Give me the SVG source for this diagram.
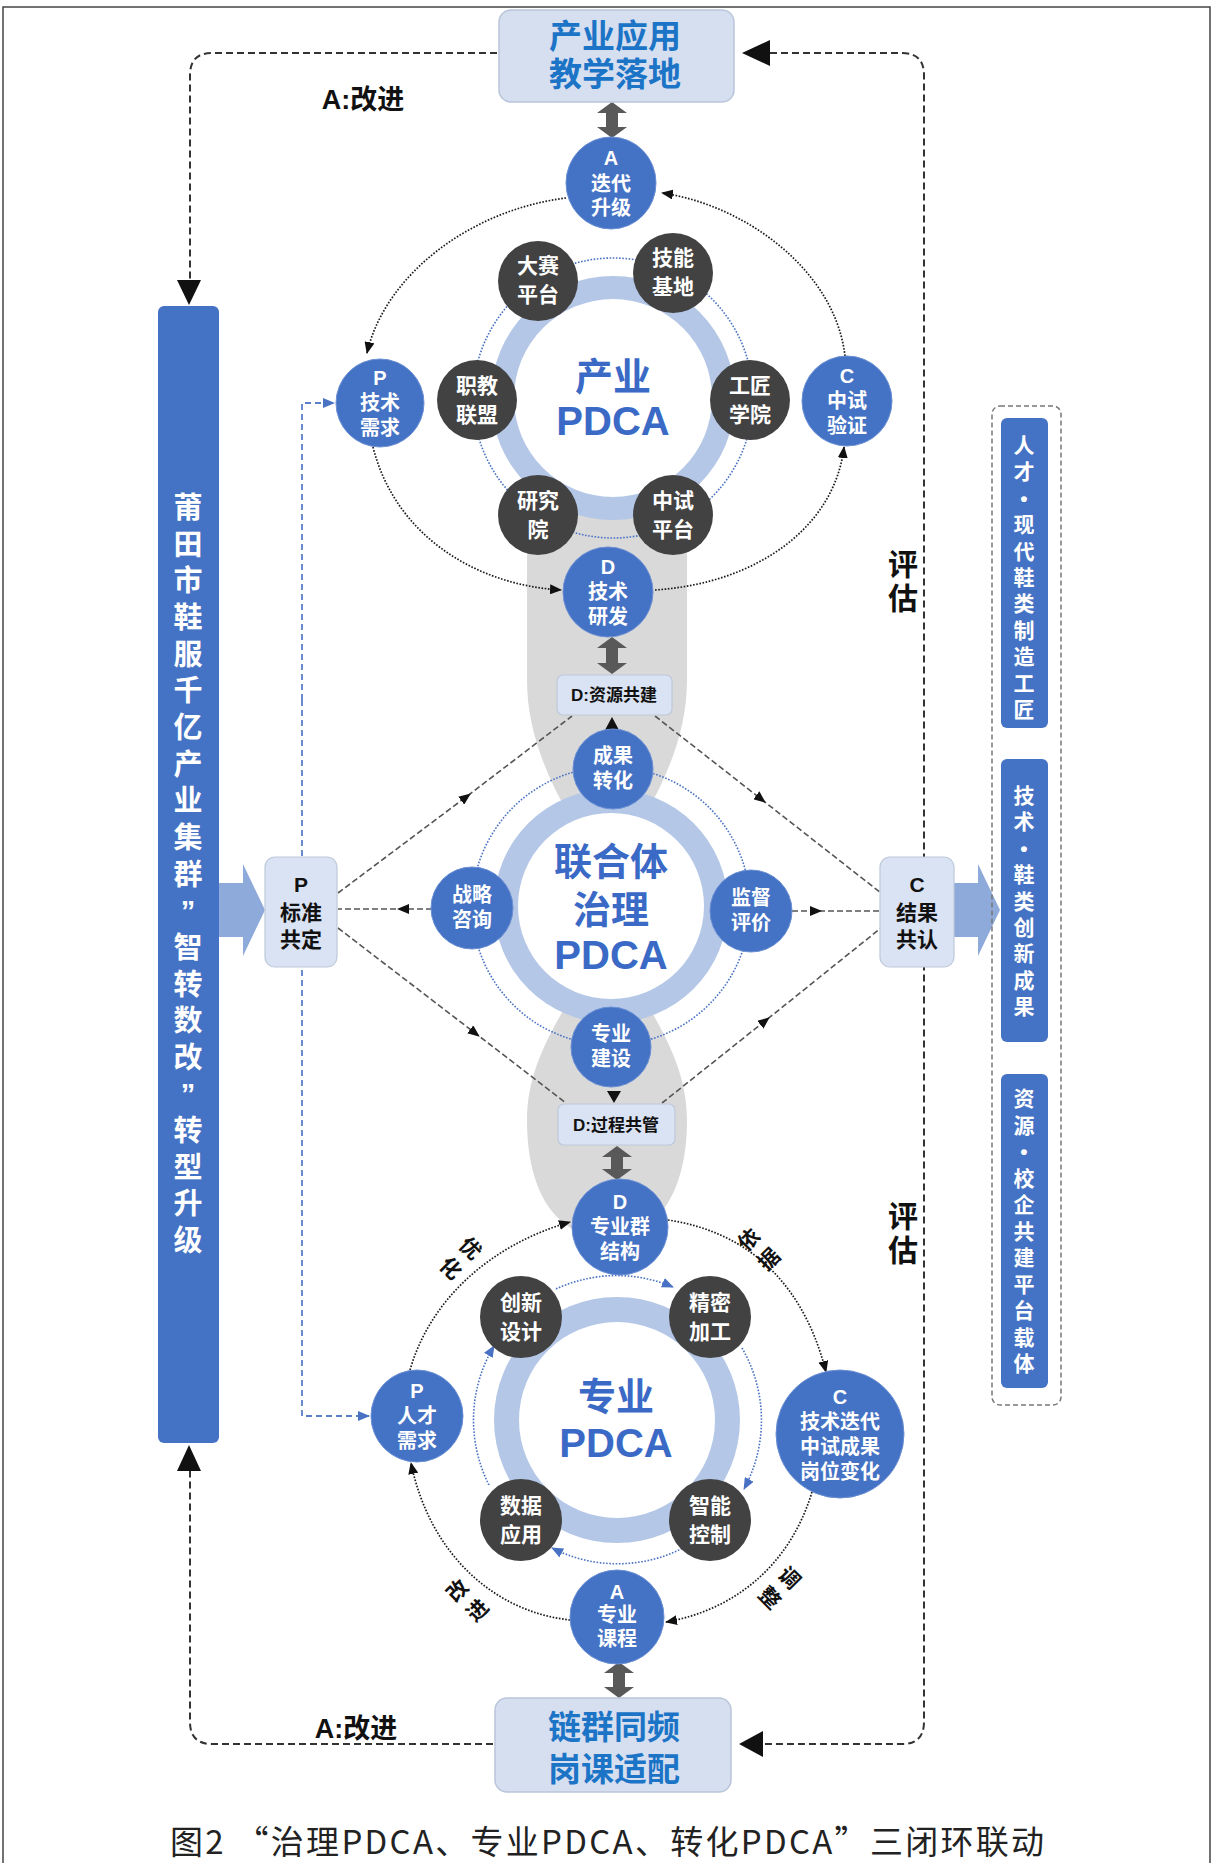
<svg xmlns="http://www.w3.org/2000/svg" width="1213" height="1863" viewBox="0 0 1213 1863">
<defs>
<style>
.t{font-family:"Liberation Sans","Noto Sans CJK SC",sans-serif;font-weight:bold;text-anchor:middle;dominant-baseline:central}
.t tspan{dominant-baseline:central}
.w{fill:#fff}
.k{fill:#111}
.n20{font-size:20px}
.n21{font-size:21px}
.bn{fill:#4472c4;stroke:#6a8fd4;stroke-width:1}
.dn{fill:#424242}
.dot{fill:none;stroke:#1a1a1a;stroke-width:1.7;stroke-dasharray:1.6 1.6}
.bdot{fill:none;stroke:#4a72c4;stroke-width:1.6;stroke-dasharray:1.6 1.6}
.dash{fill:none;stroke:#333;stroke-width:2;stroke-dasharray:7 4}
.gd{fill:none;stroke:#555;stroke-width:1.6;stroke-dasharray:6 3}
.bd{fill:none;stroke:#5b7fc8;stroke-width:1.8;stroke-dasharray:6 4}
.box{fill:#dae3f3;stroke:#bfc9da;stroke-width:1.2}
.dbl{fill:#595959}
.ring{fill:#b4c7e7}
.big{fill:#3a6ac6}
.bluebar{fill:#4472c4}
.ttl{fill:#1c74c6;font-size:33px}
</style>
<marker id="ak" viewBox="0 0 12 10" refX="11" refY="5" markerWidth="12" markerHeight="10" markerUnits="userSpaceOnUse" orient="auto"><path d="M0 0 L12 5 L0 10 Z" fill="#111"/></marker>
<marker id="ab" viewBox="0 0 12 10" refX="11" refY="5" markerWidth="12" markerHeight="10" markerUnits="userSpaceOnUse" orient="auto"><path d="M0 0 L12 5 L0 10 Z" fill="#4a72c4"/></marker>
<marker id="am" viewBox="0 0 12 10" refX="6" refY="5" markerWidth="12" markerHeight="10" markerUnits="userSpaceOnUse" orient="auto"><path d="M0 0 L12 5 L0 10 Z" fill="#111"/></marker>
</defs>

<rect width="1213" height="1863" fill="#fff"/>
<path d="M3 1863 L3 7 L1210 7 L1210 1863" fill="none" stroke="#444" stroke-width="1.5"/>

<g id="lens">
<path d="M607 470 C650 470 687 500 687 560 L687 680 C687 730 668 775 645 815 L569 815 C546 775 527 730 527 680 L527 560 C527 500 564 470 607 470 Z" fill="#d9d9d9"/>
<path d="M572 995 L642 995 C665 1035 687 1072 687 1120 C687 1190 660 1235 607 1240 C554 1235 527 1190 527 1120 C527 1072 549 1035 572 995 Z" fill="#d9d9d9"/>
</g>

<g id="ring-top"><circle cx="613" cy="398" r="122" class="ring"/><circle cx="613" cy="398" r="99" fill="#fff"/>
<circle cx="613" cy="398" r="140" class="bdot"/>
<text class="t big"><tspan x="613" y="377" font-size="38">产业</tspan><tspan x="613" y="421" font-size="40">PDCA</tspan></text></g>
<g id="ring-mid"><circle cx="611" cy="906" r="117" class="ring"/><circle cx="611" cy="906" r="93" fill="#fff"/>
<circle cx="611" cy="906" r="139" class="bdot"/>
<text class="t big" font-size="38"><tspan x="611" y="862">联合体</tspan><tspan x="611" y="910">治理</tspan><tspan x="611" y="955" font-size="40">PDCA</tspan></text></g>
<g id="ring-bot"><circle cx="617" cy="1420" r="123" class="ring"/><circle cx="617" cy="1420" r="98" fill="#fff"/>
<text class="t big"><tspan x="616" y="1397" font-size="38">专业</tspan><tspan x="616" y="1443" font-size="40">PDCA</tspan></text></g>

<g id="connectors">
<path class="dash" d="M497 53 L212 53 Q190 53 190 75 L190 282"/>
<path d="M177 280 L201 280 L189 305 Z" fill="#111"/>
<path class="dash" d="M770 53 L902 53 Q924 53 924 75 L924 1722 Q924 1744 902 1744 L763 1744"/>
<path d="M742 53 L770 40 L770 66 Z" fill="#111"/>
<path d="M739 1744 L763 1731 L763 1757 Z" fill="#111"/>
<path class="dash" d="M493 1744 L212 1744 Q190 1744 190 1722 L190 1471"/>
<path d="M189 1445 L177 1471 L201 1471 Z" fill="#111"/>
<path class="bd" d="M302 700 L302 403 L334 403" marker-end="url(#ab)"/>
<path class="bd" d="M302 700 L302 1416 L369 1416" marker-end="url(#ab)"/>
<path class="dbl" d="M612 102 L627 113 L618 113 L618 127 L627 127 L612 138 L597 127 L606 127 L606 113 L597 113 Z"/>
<path class="dbl" d="M612 637 L627 648 L618 648 L618 663 L627 663 L612 674 L597 663 L606 663 L606 648 L597 648 Z"/>
<path class="dbl" d="M617 1146 L632 1157 L623 1157 L623 1169 L632 1169 L617 1180 L602 1169 L611 1169 L611 1157 L602 1157 Z"/>
<path class="dbl" d="M619 1662 L634 1673 L625 1673 L625 1687 L634 1687 L619 1698 L604 1687 L613 1687 L613 1673 L604 1673 Z"/>
<path d="M219 883 L243 883 L243 864 L265 910 L243 956 L243 937 L219 937 Z" fill="#8eaadb"/>
<path d="M954 883 L978 883 L978 864 L1000 910 L978 956 L978 937 L954 937 Z" fill="#8eaadb"/>
<path class="dot" d="M845 356 C835 270 745 205 662 193" marker-end="url(#ak)"/>
<path class="dot" d="M566 198 C470 210 385 275 367 353" marker-end="url(#ak)"/>
<path class="dot" d="M373 447 C395 535 475 585 561 590" marker-end="url(#ak)"/>
<path class="dot" d="M655 590 C760 583 835 525 844 447" marker-end="url(#ak)"/>
<path class="gd" d="M338 893 L466 797 L572 716" marker-mid="url(#am)"/>
<path class="gd" d="M655 716 L761 799 L881 893" marker-mid="url(#am)"/>
<path class="gd" d="M338 928 L475 1033 L566 1103" marker-mid="url(#am)"/>
<path class="gd" d="M662 1103 L765 1021 L881 928" marker-mid="url(#am)"/>
<path class="gd" d="M432 909 L403 909 L338 909" marker-mid="url(#am)"/>
<path class="gd" d="M792 911 L816 911 L880 911" marker-mid="url(#am)"/>
<path d="M612 717 L605 730 L619 730 Z" fill="#111"/>
<path d="M614 1103 L607 1091 L621 1091 Z" fill="#111"/>
<path class="dot" d="M410 1370 C430 1300 490 1245 570 1222" marker-end="url(#ak)"/>
<path class="dot" d="M668 1220 C735 1230 800 1270 826 1372" marker-end="url(#ak)"/>
<path class="dot" d="M812 1492 C790 1565 735 1610 666 1622" marker-end="url(#ak)"/>
<path class="dot" d="M570 1620 C495 1612 430 1555 411 1463" marker-end="url(#ak)"/>
<path class="bdot" d="M556 1289 A144 144 0 0 1 673 1287" marker-end="url(#ab)"/>
<path class="bdot" d="M742 1348 A144 144 0 0 1 744 1489" marker-end="url(#ab)"/>
<path class="bdot" d="M685 1547 A144 144 0 0 1 552 1548" marker-end="url(#ab)"/>
<path class="bdot" d="M489 1485 A144 144 0 0 1 494 1346" marker-end="url(#ab)"/>
</g>

<g id="labels">
<text class="t k" x="363" y="100" font-size="27">A:改进</text>
<text class="t k" x="356" y="1729" font-size="27">A:改进</text>
<text class="t k" font-size="30"><tspan x="903" y="564">评</tspan><tspan x="903" y="598">估</tspan></text>
<text class="t k" font-size="30"><tspan x="903" y="1216">评</tspan><tspan x="903" y="1250">估</tspan></text>
<text class="t k n21" transform="translate(461 1258) rotate(45)"><tspan x="0" y="-14">优</tspan><tspan x="0" y="14">化</tspan></text>
<text class="t k n21" transform="translate(758.5 1249) rotate(-45)"><tspan x="0" y="-14">依</tspan><tspan x="0" y="14">据</tspan></text>
<text class="t k n21" transform="translate(467 1600) rotate(-45)"><tspan x="0" y="-14">改</tspan><tspan x="0" y="14">进</tspan></text>
<text class="t k n21" transform="translate(780 1587.5) rotate(45)"><tspan x="0" y="-14">调</tspan><tspan x="0" y="14">整</tspan></text>
</g>

<g id="box-top"><rect x="499" y="10" width="235" height="92" rx="12" fill="#d6dff0" stroke="#b9c5da" stroke-width="1.5"/>
<text class="t ttl"><tspan x="615" y="36">产业应用</tspan><tspan x="615" y="74">教学落地</tspan></text></g>
<g id="box-bottom"><rect x="495" y="1698" width="236" height="94" rx="12" fill="#d6dff0" stroke="#b9c5da" stroke-width="1.5"/>
<text class="t ttl"><tspan x="614" y="1727">链群同频</tspan><tspan x="614" y="1769">岗课适配</tspan></text></g>

<g id="n-A1"><ellipse cx="611" cy="183" rx="45" ry="46" class="bn"/><text class="t w n20"><tspan x="611" y="158">A</tspan><tspan x="611" y="184">迭代</tspan><tspan x="611" y="208">升级</tspan></text></g>
<g id="n-P1"><circle cx="380" cy="403" r="44" class="bn"/><text class="t w n20"><tspan x="380" y="378">P</tspan><tspan x="380" y="403">技术</tspan><tspan x="380" y="428">需求</tspan></text></g>
<g id="n-C1"><circle cx="847" cy="401" r="45" class="bn"/><text class="t w n20"><tspan x="847" y="376">C</tspan><tspan x="847" y="401">中试</tspan><tspan x="847" y="426">验证</tspan></text></g>
<g id="n-D1"><circle cx="608" cy="592" r="45" class="bn"/><text class="t w n20"><tspan x="608" y="567">D</tspan><tspan x="608" y="592">技术</tspan><tspan x="608" y="617">研发</tspan></text></g>
<g id="n-dasai"><circle cx="538" cy="281" r="40" class="dn"/><text class="t w n21"><tspan x="538" y="265">大赛</tspan><tspan x="538" y="294">平台</tspan></text></g>
<g id="n-jineng"><circle cx="673" cy="273" r="40" class="dn"/><text class="t w n21"><tspan x="673" y="257">技能</tspan><tspan x="673" y="286">基地</tspan></text></g>
<g id="n-zhijiao"><circle cx="477" cy="400" r="40" class="dn"/><text class="t w n21"><tspan x="477" y="385">职教</tspan><tspan x="477" y="414">联盟</tspan></text></g>
<g id="n-gongjiang"><circle cx="750" cy="400" r="40" class="dn"/><text class="t w n21"><tspan x="750" y="385">工匠</tspan><tspan x="750" y="414">学院</tspan></text></g>
<g id="n-yanjiu"><circle cx="538" cy="515" r="40" class="dn"/><text class="t w n21"><tspan x="538" y="500">研究</tspan><tspan x="538" y="529">院</tspan></text></g>
<g id="n-zhongshi"><circle cx="673" cy="515" r="40" class="dn"/><text class="t w n21"><tspan x="673" y="500">中试</tspan><tspan x="673" y="529">平台</tspan></text></g>

<g id="b-ziyuan"><rect x="557" y="675" width="115" height="40" rx="6" class="box"/><text class="t k" x="614" y="695" font-size="17">D:资源共建</text></g>
<g id="b-guocheng"><rect x="558" y="1104" width="117" height="41" rx="6" class="box"/><text class="t k" x="616" y="1125" font-size="17">D:过程共管</text></g>
<g id="b-biaozhun"><rect x="265" y="857" width="72" height="110" rx="10" class="box"/><text class="t k n21"><tspan x="301" y="884">P</tspan><tspan x="301" y="912">标准</tspan><tspan x="301" y="939">共定</tspan></text></g>
<g id="b-jieguo"><rect x="880" y="857" width="74" height="110" rx="10" class="box"/><text class="t k n21"><tspan x="917" y="884">C</tspan><tspan x="917" y="912">结果</tspan><tspan x="917" y="939">共认</tspan></text></g>
<g id="n-chengguo"><circle cx="613" cy="769" r="40" class="bn"/><text class="t w n20"><tspan x="613" y="756">成果</tspan><tspan x="613" y="781">转化</tspan></text></g>
<g id="n-zhanlue"><circle cx="472" cy="908" r="41" class="bn"/><text class="t w n20"><tspan x="472" y="895">战略</tspan><tspan x="472" y="920">咨询</tspan></text></g>
<g id="n-jiandu"><circle cx="751" cy="911" r="41" class="bn"/><text class="t w n20"><tspan x="751" y="898">监督</tspan><tspan x="751" y="923">评价</tspan></text></g>
<g id="n-zhuanye"><circle cx="611" cy="1047" r="40" class="bn"/><text class="t w n20"><tspan x="611" y="1034">专业</tspan><tspan x="611" y="1059">建设</tspan></text></g>

<g id="n-D2"><circle cx="620" cy="1227" r="48" class="bn"/><text class="t w n20"><tspan x="620" y="1202">D</tspan><tspan x="620" y="1227">专业群</tspan><tspan x="620" y="1252">结构</tspan></text></g>
<g id="n-P2"><circle cx="417" cy="1416" r="46" class="bn"/><text class="t w n20"><tspan x="417" y="1391">P</tspan><tspan x="417" y="1416">人才</tspan><tspan x="417" y="1441">需求</tspan></text></g>
<g id="n-C2"><circle cx="840" cy="1434" r="64" class="bn"/><text class="t w n20"><tspan x="840" y="1397">C</tspan><tspan x="840" y="1422">技术迭代</tspan><tspan x="840" y="1447">中试成果</tspan><tspan x="840" y="1472">岗位变化</tspan></text></g>
<g id="n-A2"><circle cx="617" cy="1617" r="47" class="bn"/><text class="t w n20"><tspan x="617" y="1592">A</tspan><tspan x="617" y="1615">专业</tspan><tspan x="617" y="1639">课程</tspan></text></g>
<g id="n-chuangxin"><circle cx="521" cy="1317" r="41" class="dn"/><text class="t w n21"><tspan x="521" y="1302">创新</tspan><tspan x="521" y="1331">设计</tspan></text></g>
<g id="n-jingmi"><circle cx="710" cy="1317" r="41" class="dn"/><text class="t w n21"><tspan x="710" y="1302">精密</tspan><tspan x="710" y="1331">加工</tspan></text></g>
<g id="n-shuju"><circle cx="521" cy="1520" r="41" class="dn"/><text class="t w n21"><tspan x="521" y="1505">数据</tspan><tspan x="521" y="1534">应用</tspan></text></g>
<g id="n-zhineng"><circle cx="710" cy="1520" r="41" class="dn"/><text class="t w n21"><tspan x="710" y="1505">智能</tspan><tspan x="710" y="1534">控制</tspan></text></g>

<g id="left-bar"><rect x="158" y="306" width="61" height="1137" rx="6" class="bluebar"/>
<text class="t w" font-size="29"><tspan x="188" y="508">莆</tspan><tspan x="188" y="544.7">田</tspan><tspan x="188" y="581.3">市</tspan><tspan x="188" y="618">鞋</tspan><tspan x="188" y="654.6">服</tspan><tspan x="188" y="691.3">千</tspan><tspan x="188" y="728">亿</tspan><tspan x="188" y="764.6">产</tspan><tspan x="188" y="801.2">业</tspan><tspan x="188" y="837.9">集</tspan><tspan x="188" y="874.5">群</tspan><tspan x="188" y="911.2">”</tspan><tspan x="188" y="947.8">智</tspan><tspan x="188" y="984.5">转</tspan><tspan x="188" y="1021.1">数</tspan><tspan x="188" y="1057.8">改</tspan><tspan x="188" y="1094.4">”</tspan><tspan x="188" y="1131">转</tspan><tspan x="188" y="1167.7">型</tspan><tspan x="188" y="1204.4">升</tspan><tspan x="188" y="1241">级</tspan></text></g>

<g id="right-panel"><rect x="992" y="406" width="69" height="999" rx="8" fill="none" stroke="#777" stroke-width="1.5" stroke-dasharray="5 3"/>
<rect x="1001" y="418" width="47" height="310" rx="6" class="bluebar"/>
<rect x="1001" y="759" width="47" height="283" rx="6" class="bluebar"/>
<rect x="1001" y="1074" width="47" height="314" rx="6" class="bluebar"/>
<text class="t w n21"><tspan x="1024" y="445">人</tspan><tspan x="1024" y="471.4">才</tspan><tspan x="1024" y="497.8">•</tspan><tspan x="1024" y="524.2">现</tspan><tspan x="1024" y="550.6">代</tspan><tspan x="1024" y="577">鞋</tspan><tspan x="1024" y="603.4">类</tspan><tspan x="1024" y="629.8">制</tspan><tspan x="1024" y="656.2">造</tspan><tspan x="1024" y="682.6">工</tspan><tspan x="1024" y="709">匠</tspan></text>
<text class="t w n21"><tspan x="1024" y="795">技</tspan><tspan x="1024" y="821.4">术</tspan><tspan x="1024" y="847.8">•</tspan><tspan x="1024" y="874.2">鞋</tspan><tspan x="1024" y="900.6">类</tspan><tspan x="1024" y="927">创</tspan><tspan x="1024" y="953.4">新</tspan><tspan x="1024" y="979.8">成</tspan><tspan x="1024" y="1006.2">果</tspan></text>
<text class="t w n21"><tspan x="1024" y="1098">资</tspan><tspan x="1024" y="1124.5">源</tspan><tspan x="1024" y="1151">•</tspan><tspan x="1024" y="1177.5">校</tspan><tspan x="1024" y="1204">企</tspan><tspan x="1024" y="1230.5">共</tspan><tspan x="1024" y="1257">建</tspan><tspan x="1024" y="1283.5">平</tspan><tspan x="1024" y="1310">台</tspan><tspan x="1024" y="1336.5">载</tspan><tspan x="1024" y="1363">体</tspan></text>
</g>

<text x="170" y="1840" font-family="'Noto Sans CJK SC','Noto Sans',sans-serif" font-size="33" fill="#222" dominant-baseline="central" textLength="874" lengthAdjust="spacing">图2 “治理PDCA、专业PDCA、转化PDCA”三闭环联动</text>
</svg>
